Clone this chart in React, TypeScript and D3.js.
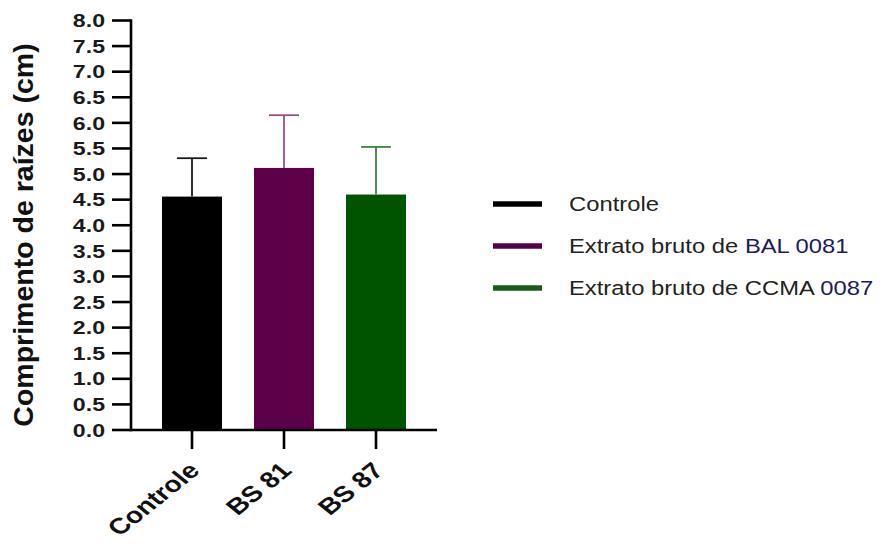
import React from "react";
import * as d3 from "d3";

const categories = ["Controle", "BS 81", "BS 87"];
const means = [4.56, 5.12, 4.6];
const errors = [0.75, 1.03, 0.93];
const yTicks = [0, 0.5, 1, 1.5, 2, 2.5, 3, 3.5, 4, 4.5, 5, 5.5, 6, 6.5, 7, 7.5, 8];
const legendLabels = [
  ["Controle", ""],
  ["Extrato bruto de ", "BAL 0081"],
  ["Extrato bruto de CCMA ", "0087"],
];
const barColors = ["#000000", "#5c004a", "#005400"];
const errColors = ["#1a1a1a", "#94508a", "#3a843a"];
const legendColors = ["#000000", "#56004a", "#1d5a1d"];

const W = 890;
const H = 545;
const SX = 1.25;

export default function App() {
  const y = d3.scaleLinear().domain([0, 8]).range([430, 20.5]);
  const x = d3
    .scaleBand()
    .domain(categories)
    .range([146, 422])
    .paddingInner(0.348)
    .paddingOuter(0.174);
  const axisX = 131;
  const font = "'Liberation Sans', Arial, sans-serif";

  return (
    <svg
      width={W}
      height={H}
      style={{ position: "absolute", left: 0, top: 0, background: "#fff" }}
      fontFamily={font}
    >
      <rect x={0} y={0} width={W} height={H} fill="#fff" />
      {/* bars */}
      {categories.map((c, i) => (
        <rect
          key={c}
          x={x(c)!}
          y={y(means[i])}
          width={x.bandwidth()}
          height={y(0) - y(means[i])}
          fill={barColors[i]}
        />
      ))}
      {/* error bars */}
      {categories.map((c, i) => {
        const cx = x(c)! + x.bandwidth() / 2;
        const top = y(means[i] + errors[i]);
        return (
          <g key={c} stroke={errColors[i]} strokeWidth={1.8}>
            <line x1={cx} x2={cx} y1={y(means[i])} y2={top} />
            <line x1={cx - 15} x2={cx + 15} y1={top} y2={top} />
          </g>
        );
      })}
      {/* y axis */}
      <line x1={axisX} x2={axisX} y1={y(8) - 1.2} y2={y(0) + 1.2} stroke="#000" strokeWidth={2.6} />
      {yTicks.map((t) => (
        <g key={t}>
          <line x1={112} x2={axisX} y1={y(t)} y2={y(t)} stroke="#000" strokeWidth={2.6} />
          <text
            transform={`translate(105,${y(t)}) scale(${SX},1)`}
            textAnchor="end"
            dy="0.36em"
            fontSize={18.5}
            fontWeight="bold"
            fill="#1a1a1a"
          >
            {t.toFixed(1)}
          </text>
        </g>
      ))}
      {/* x axis */}
      <line x1={axisX} x2={437} y1={y(0)} y2={y(0)} stroke="#000" strokeWidth={2.6} />
      {categories.map((c) => {
        const cx = x(c)! + x.bandwidth() / 2;
        return (
          <g key={c}>
            <line x1={cx} x2={cx} y1={y(0)} y2={449} stroke="#000" strokeWidth={2.6} />
            <text
              transform={`translate(${cx + 9},${472}) scale(${SX},1) rotate(-45)`}
              textAnchor="end"
              fontSize={22.5}
              fontWeight="bold"
              fill="#111"
            >
              {c}
            </text>
          </g>
        );
      })}
      {/* y label */}
      <text
        transform={`translate(33,235) rotate(-90)`}
        textAnchor="middle"
        fontSize={28.5}
        fontWeight="bold"
        fill="#111"
      >
        Comprimento de raízes (cm)
      </text>
      {/* legend */}
      {legendLabels.map((l, i) => {
        const ly = 204 + i * 42;
        return (
          <g key={i}>
            <line x1={493} x2={542} y1={ly} y2={ly} stroke={legendColors[i]} strokeWidth={5.5} />
            <text
              transform={`translate(569,${ly}) scale(${SX - 0.03},1)`}
              dy="0.36em"
              fontSize={19.5}
              fill="#222"
            >
              {l[0]}
              {l[1] ? <tspan fill="#1c1c5a">{l[1]}</tspan> : null}
            </text>
          </g>
        );
      })}
    </svg>
  );
}
